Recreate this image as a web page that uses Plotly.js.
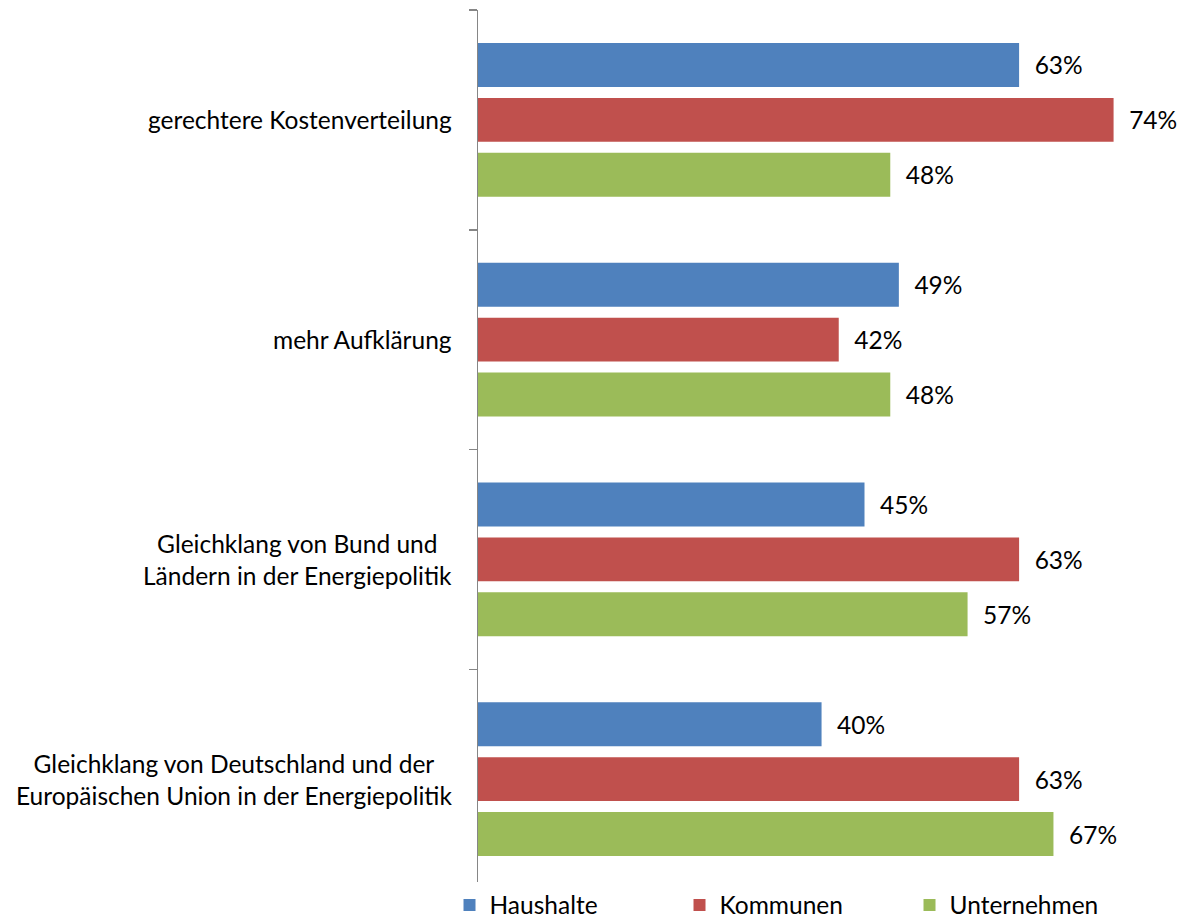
<!DOCTYPE html>
<html>
<head>
<meta charset="utf-8">
<script src="https://cdn.plot.ly/plotly-3.0.1.min.js"></script>
<style>html,body{margin:0;padding:0;background:#fff;}#chart{width:1178px;height:920px;}</style>
</head>
<body>
<div id="chart"></div>
<script>
var categories = [
  "gerechtere Kostenverteilung",
  "mehr Aufklärung",
  "Gleichklang von Bund und<br>Ländern in der Energiepolitik",
  "Gleichklang von Deutschland und der<br>Europäischen Union in der Energiepolitik"
];
var seriesNames = ["Haushalte", "Kommunen", "Unternehmen"];
var haushalte = [63, 49, 45, 40];
var kommunen = [74, 42, 63, 63];
var unternehmen = [48, 48, 57, 67];
var colors = ["#4F81BD", "#C0504D", "#9BBB59"];

var FONT = "Lato, 'Open Sans', sans-serif";
var FS = 24.5;
var values = [haushalte, kommunen, unternehmen];
var traces = values.map(function (v, i) {
  return {
    type: "bar",
    orientation: "h",
    name: seriesNames[i],
    y: categories,
    x: v,
    marker: { color: colors[i] },
    text: v.map(function (d) { return d + "%"; }),
    texttemplate: "\u00a0\u00a0%{text}",
    textposition: "outside",
    cliponaxis: false,
    constraintext: "none",
    textfont: { family: FONT, size: FS, color: "#000" },
    hoverinfo: "x+y"
  };
});

var annotations = categories.map(function (c) {
  return {
    text: c,
    xref: "paper",
    yref: "y",
    x: 0,
    y: c,
    xanchor: "right",
    yanchor: "middle",
    xshift: -24,
    align: "center",
    showarrow: false,
    font: { family: FONT, size: FS, color: "#000" }
  };
});

var layout = {
  width: 1178,
  height: 920,
  margin: { l: 478, r: 0, t: 10, b: 31, autoexpand: false },
  paper_bgcolor: "#fff",
  plot_bgcolor: "#fff",
  barmode: "group",
  bargap: 0.25,
  bargroupgap: 0.2,
  showlegend: true,
  legend: {
    orientation: "h",
    xref: "paper",
    yref: "paper",
    x: -0.0407,
    y: -0.0182,
    xanchor: "left",
    yanchor: "middle",
    entrywidth: 185,
    entrywidthmode: "pixels",
    tracegroupgap: 0,
    font: { family: FONT, size: FS, color: "#000" },
    traceorder: "normal"
  },
  xaxis: {
    range: [0, 81.5],
    visible: false,
    fixedrange: true
  },
  yaxis: {
    type: "category",
    autorange: "reversed",
    showticklabels: false,
    showline: true,
    linecolor: "#868686",
    linewidth: 1.5,
    ticks: "outside",
    tickson: "boundaries",
    ticklen: 8,
    tickcolor: "#868686",
    tickwidth: 1.5,
    showgrid: false,
    zeroline: false
  },
  annotations: annotations,
  font: { family: FONT, size: FS, color: "#000" }
};

Plotly.newPlot("chart", traces, layout, { displayModeBar: false, staticPlot: true });
</script>
</body>
</html>
